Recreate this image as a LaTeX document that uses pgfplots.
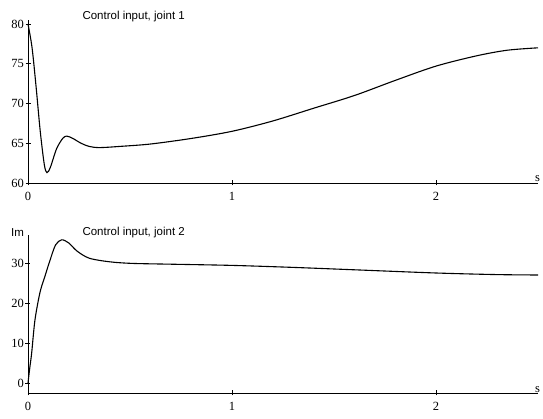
\documentclass[border=0pt]{standalone}
\usepackage{fontspec}
\setmainfont{Liberation Serif}
\newfontfamily\titlefont{Liberation Sans}
\usepackage{pgfplots}
\pgfplotsset{compat=1.18}

\pgfplotsset{
  ctrlaxis/.style={
    scale only axis,
    axis lines*=left,
    axis line style={line width=0.8pt},
    width=510pt,
    xmin=0, xmax=2.5,
    xtick={0,1,2},
    tick align=center,
    major tick length=5pt,
    tick style={line width=0.6pt,black},
    ticklabel style={font=\fontsize{12.5}{12.5}\selectfont},
    xticklabel style={yshift=-3pt},
    yticklabel style={xshift=2pt},
    /pgf/number format/assume math mode=true,
    clip=false,
  },
}

\begin{document}
\begin{tikzpicture}
\draw[white, line width=0pt] (0pt,0pt) rectangle (543pt,419pt);

% joint 1
\begin{axis}[ctrlaxis,
    at={(28pt,236pt)}, anchor=south west,
    height=163pt,
    ymin=60, ymax=80.5,
    ytick={60,65,70,75,80},
]
\addplot[black, line width=1.1pt, smooth] coordinates {
  (0,80) (0.02,77) (0.04,72) (0.06,66.5) (0.08,62.3) (0.093,61.3)
  (0.11,62) (0.14,64.3) (0.17,65.6) (0.19,65.9) (0.22,65.6) (0.26,65)
  (0.30,64.6) (0.35,64.45) (0.45,64.6) (0.6,64.9) (0.8,65.6) (1.0,66.5)
  (1.2,67.8) (1.4,69.4) (1.6,71.0) (1.8,72.9) (2.0,74.7) (2.2,76.0)
  (2.35,76.7) (2.5,77.0)
};
\node[anchor=west,font=\titlefont\fontsize{11.5}{11.5}\selectfont] at (axis cs:0.25,80.9) {Control input, joint 1};
\node[anchor=south west,font=\fontsize{12.5}{12.5}\selectfont,inner sep=0pt] at (axis cs:2.485,60.1) {s};
\end{axis}

% joint 2
\begin{axis}[ctrlaxis,
    at={(28pt,26pt)}, anchor=south west,
    height=158pt,
    ymin=-2.5, ymax=37,
    ytick={0,10,20,30},
]
\addplot[black, line width=1.1pt, smooth] coordinates {
  (0,0) (0.008,3.5) (0.018,7.5) (0.034,15.7) (0.059,22.7) (0.085,27)
  (0.108,30.7) (0.135,34.5) (0.165,35.8) (0.2,35) (0.24,33) (0.30,31.2)
  (0.40,30.3) (0.51,29.9) (0.7,29.7) (1.0,29.4) (1.3,28.9) (1.6,28.3)
  (2.0,27.5) (2.3,27.1) (2.5,27.0)
};
\node[anchor=west,font=\titlefont\fontsize{11.5}{11.5}\selectfont] at (axis cs:0.25,37.6) {Control input, joint 2};
\node[anchor=west,font=\titlefont\fontsize{11.5}{11.5}\selectfont] at (axis cs:-0.1,37.6) {Im};
\node[anchor=south west,font=\fontsize{12.5}{12.5}\selectfont,inner sep=0pt] at (axis cs:2.485,-2.4) {s};
\end{axis}
\end{tikzpicture}
\end{document}
